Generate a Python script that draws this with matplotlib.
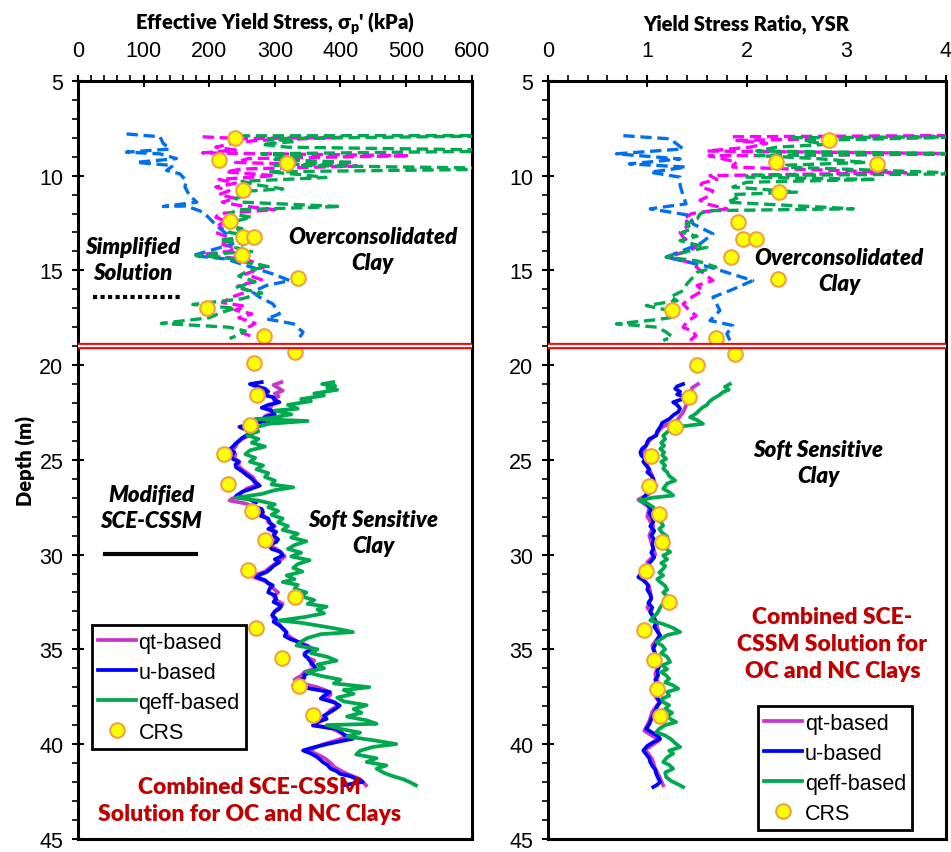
import numpy as np
import matplotlib
matplotlib.use("Agg")
import matplotlib.pyplot as plt
from matplotlib.lines import Line2D

plt.rcParams['font.family'] = ['Liberation Sans Narrow', 'Liberation Sans', 'DejaVu Sans']
plt.rcParams['mathtext.fontset'] = 'custom'
plt.rcParams['mathtext.rm'] = 'Lato:bold'

# ---------------- data: effective yield stress (kPa) ----------------
crs_d_left = [8.0, 9.2, 9.35, 10.75, 12.4, 13.25, 13.25, 14.2, 15.4, 17.0, 18.45, 19.3, 19.9,
              21.6, 23.15, 24.7, 26.3, 27.7, 29.25, 30.8, 32.25, 33.85, 35.45, 36.95, 38.45]
crs_sp = [240, 215, 318, 251, 231, 252, 268, 250, 336, 196, 284, 331, 269,
          273, 262, 223, 228, 265, 285, 259, 330, 271, 311, 337, 358]

# simplified solution (overconsolidated, dashed)
qt_top_d = [7.95, 8.05, 7.98, 8.15, 8.3, 8.5, 8.65, 8.8, 8.95, 9.1, 9.3, 9.5, 9.65, 9.8, 10.0,
            10.2, 10.4, 10.6, 10.8, 11.0, 11.2, 11.4, 11.6, 11.8, 12.0, 12.2, 12.4, 12.6, 12.8,
            13.0, 13.2, 13.4, 13.6, 13.8, 14.0, 14.2, 14.4, 14.6, 14.8, 15.0, 15.2, 15.5, 15.8,
            16.1, 16.4, 16.7, 16.9, 17.1, 17.3, 17.5, 17.8, 18.0, 18.3, 18.55]
qt_top_sp = [190, 250, 400, 270, 235, 210, 240, 190, 505, 260, 240, 425, 250, 225, 300,
             215, 240, 210, 230, 215, 240, 220, 250, 300, 215, 210, 225, 215, 220,
             210, 225, 235, 215, 240, 230, 180, 255, 270, 285, 270, 255, 280, 245,
             260, 235, 220, 255, 240, 265, 245, 270, 260, 250, 270]

u_top_d = [7.8, 7.95, 8.3, 8.6, 8.76, 8.85, 9.1, 9.3, 9.47, 9.73, 9.9, 10.26, 10.6, 11.05,
           11.4, 11.63, 11.6, 11.93, 12.28, 12.64, 13.07, 13.6, 14.22, 14.4, 14.75, 15.19,
           15.54, 15.8, 16.14, 16.42, 16.77, 17.3, 17.56, 17.82, 18.26, 18.53]
u_top_sp = [74, 125, 130, 140, 74, 125, 150, 89, 145, 135, 155, 165, 163, 170,
            181, 130, 165, 191, 201, 211, 226, 236, 175, 226, 257, 297,
            323, 287, 266, 277, 297, 307, 287, 328, 343, 338]

qeff_top_d = [7.9, 7.88, 8.05, 8.2, 8.35, 8.5, 8.68, 8.85, 9.0, 9.15, 9.3, 9.45, 9.64, 9.8,
              9.95, 10.1, 10.3, 10.5, 10.7, 10.85, 11.0, 11.2, 11.4, 11.63, 11.8, 12.0, 12.2,
              12.4, 12.6, 12.8, 13.0, 13.2, 13.4, 13.6, 13.8, 14.0, 14.2, 14.4, 14.6, 14.8,
              15.0, 15.3, 15.6, 15.9, 16.2, 16.5, 16.8, 17.0, 17.2, 17.5, 17.8, 18.0, 18.2,
              18.4, 18.6]
qeff_top_sp = [245, 700, 290, 330, 280, 320, 700, 280, 340, 300, 420, 300, 700, 290,
               340, 378, 250, 275, 312, 245, 260, 240, 250, 400, 245, 230, 265,
               240, 225, 250, 230, 270, 215, 255, 240, 265, 180, 240, 260, 290,
               260, 245, 270, 240, 280, 250, 175, 240, 220, 200, 127, 230, 255,
               245, 231]

# modified SCE-CSSM (soft sensitive clay, solid)
qt_bot_d = [20.9, 21.05, 21.2, 21.35, 21.5, 21.65, 21.8, 21.95, 22.1, 22.3, 22.5, 22.7, 22.9,
            23.05, 23.2, 23.35, 23.5, 23.7, 23.9, 24.1, 24.3, 24.5, 24.7, 24.9, 25.1, 25.3,
            25.5, 25.7, 25.9, 26.1, 26.3, 26.5, 26.7, 26.9, 27.05, 27.15, 27.3, 27.5, 27.7,
            27.9, 28.1, 28.3, 28.5, 28.7, 28.9, 29.1, 29.3, 29.5, 29.7, 29.9, 30.1, 30.3,
            30.5, 30.7, 30.9, 31.05, 31.2, 31.4, 31.6, 31.8, 32.0, 32.2, 32.4, 32.6, 32.8,
            33.0, 33.2, 33.4, 33.6, 33.8, 34.0, 34.2, 34.4, 34.6, 34.8, 35.0, 35.2, 35.4,
            35.6, 35.8, 36.0, 36.2, 36.4, 36.6, 36.8, 37.0, 37.2, 37.4, 37.6, 37.8, 38.0,
            38.2, 38.4, 38.6, 38.8, 39.0, 39.2, 39.4, 39.6, 39.8, 40.0, 40.2, 40.4, 40.6,
            40.8, 41.0, 41.2, 41.4, 41.6, 41.85, 42.18]
qt_bot_sp = [310, 298, 305, 312, 300, 306, 298, 303, 296, 292, 298, 285, 280,
             265, 255, 258, 265, 262, 250, 243, 240, 236, 240, 238, 246, 244,
             250, 258, 266, 270, 275, 258, 250, 245, 235, 231, 255, 268, 278,
             282, 288, 290, 300, 295, 300, 296, 300, 292, 302, 310, 315, 308,
             300, 292, 285, 272, 268, 285, 292, 298, 305, 298, 302, 312, 306,
             300, 296, 298, 305, 310, 315, 318, 325, 335, 350, 355, 345, 348,
             360, 355, 362, 345, 340, 330, 340, 365, 380, 385, 378, 392, 395,
             385, 380, 372, 365, 362, 388, 400, 410, 395, 375, 360, 355, 368,
             378, 385, 390, 400, 412, 430, 439]

u_bot_d = [20.9, 21.0, 21.1, 21.25, 21.4, 21.55, 21.7, 21.85, 21.96, 22.1, 22.25, 22.4, 22.6,
           22.75, 22.9, 23.1, 23.26, 23.4, 23.55, 23.7, 23.85, 24.0, 24.15, 24.3, 24.45,
           24.6, 24.8, 24.95, 25.1, 25.25, 25.4, 25.6, 25.8, 26.0, 26.2, 26.36, 26.55, 26.7,
           26.9, 27.05, 27.23, 27.4, 27.6, 27.76, 27.95, 28.1, 28.3, 28.5, 28.65, 28.8, 29.0,
           29.2, 29.34, 29.5, 29.7, 29.85, 30.05, 30.25, 30.4, 30.6, 30.8, 30.93, 31.05,
           31.19, 31.35, 31.5, 31.63, 31.8, 32.0, 32.15, 32.33, 32.5, 32.7, 32.86, 33.0,
           33.2, 33.4, 33.55, 33.74, 33.9, 34.1, 34.3, 34.45, 34.6, 34.8, 34.97, 35.15,
           35.3, 35.45, 35.6, 35.8, 36.03, 36.2, 36.35, 36.5, 36.7, 36.9, 37.05, 37.26,
           37.45, 37.6, 37.8, 37.97, 38.15, 38.3, 38.5, 38.67, 38.85, 39.02, 39.2, 39.35,
           39.5, 39.72, 39.85, 40.0, 40.17, 40.34, 40.5, 40.7, 40.95, 41.1, 41.3, 41.45,
           41.57, 41.7, 41.83, 42.0, 42.18]
u_bot_sp = [280, 262, 270, 285, 290, 280, 298, 300, 307, 290, 280, 295, 300,
            285, 292, 265, 246, 255, 262, 257, 250, 245, 240, 236, 231,
            238, 233, 236, 245, 240, 241, 250, 257, 265, 270, 277, 262, 250,
            241, 258, 272, 265, 280, 282, 278, 290, 292, 298, 290, 302, 298,
            305, 302, 290, 295, 308, 312, 300, 307, 298, 292, 287, 278,
            272, 285, 290, 297, 292, 290, 300, 302, 298, 310, 307, 300,
            296, 302, 298, 307, 312, 318, 315, 323, 335, 345, 358, 348,
            345, 350, 353, 358, 363, 355, 345, 345, 335, 328, 350, 384,
            375, 370, 390, 399, 392, 385, 375, 379, 365, 358, 394, 400,
            405, 419, 400, 380, 360, 343, 355, 365, 373, 380, 385, 395,
            399, 415, 424, 434, 404]

qeff_bot_d = [20.9, 21.0, 21.1, 21.2, 21.3, 21.5, 21.6, 21.8, 21.9, 22.1, 22.3, 22.4, 22.6,
              22.8, 22.85, 22.95, 23.1, 23.3, 23.5, 23.7, 23.9, 24.1, 24.3, 24.5, 24.7, 24.9,
              25.1, 25.3, 25.5, 25.7, 25.9, 26.1, 26.3, 26.45, 26.6, 26.8, 27.0, 27.15, 27.35,
              27.5, 27.7, 27.9, 28.1, 28.3, 28.5, 28.7, 28.9, 29.1, 29.3, 29.5, 29.7, 29.9,
              30.1, 30.3, 30.5, 30.7, 30.9, 31.1, 31.3, 31.45, 31.6, 31.8, 32.0, 32.2, 32.4,
              32.6, 32.75, 32.9, 33.1, 33.3, 33.48, 33.6, 33.8, 33.95, 34.09, 34.2, 34.4,
              34.6, 34.8, 35.0, 35.2, 35.4, 35.6, 35.8, 36.0, 36.2, 36.4, 36.6, 36.8, 37.0,
              37.15, 37.35, 37.55, 37.75, 37.95, 38.15, 38.35, 38.55, 38.75, 38.93, 39.0,
              39.2, 39.4, 39.6, 39.8, 40.0, 40.15, 40.35, 40.55, 40.75, 40.95, 41.13, 41.3,
              41.5, 41.7, 41.85, 42.0, 42.18]
qeff_bot_sp = [389, 372, 392, 380, 395, 360, 375, 340, 355, 320, 335, 300, 325,
               292, 270, 350, 290, 270, 275, 258, 275, 265, 285, 262, 255, 270,
               262, 282, 272, 290, 285, 300, 295, 328, 300, 280, 241, 275, 300,
               290, 305, 295, 312, 305, 320, 312, 335, 325, 348, 330, 320, 340,
               325, 353, 335, 328, 342, 318, 330, 312, 335, 330, 348, 340, 360,
               350, 379, 365, 375, 345, 307, 340, 375, 400, 419, 370, 350,
               340, 333, 365, 355, 380, 394, 365, 375, 348, 370, 400, 390, 444,
               405, 420, 395, 405, 440, 420, 432, 410, 440, 455, 379,
               400, 430, 410, 450, 485, 450, 430, 424, 455, 440, 470, 455,
               465, 480, 495, 505, 515]

# ---------------- data: yield stress ratio ----------------
crs_d_right = [8.1, 9.26, 9.38, 10.87, 12.46, 13.37, 13.37, 14.27, 15.48, 17.07, 18.56, 19.41,
               19.97, 21.66, 23.27, 24.8, 26.36, 27.85, 29.35, 30.87, 32.48, 34.0, 35.55,
               37.1, 38.5]
crs_ysr = [2.83, 2.29, 3.31, 2.32, 1.91, 1.96, 2.09, 1.84, 2.31, 1.25, 1.69, 1.88,
           1.50, 1.42, 1.28, 1.04, 1.015, 1.115, 1.15, 0.99, 1.22, 0.965, 1.065,
           1.10, 1.13]

ysr_qt_top_d = [7.95, 7.88, 8.15, 8.3, 8.5, 8.7, 8.85, 8.95, 9.1, 9.3, 9.45, 9.55, 9.85,
                10.0, 10.2, 10.4, 10.6, 10.8, 11.05, 11.3, 11.5, 11.75, 12.0, 12.28, 12.5,
                12.72, 13.0, 13.25, 13.5, 13.78, 14.0, 14.3, 14.6, 15.0, 15.3, 15.54, 15.8,
                16.07, 16.4, 16.77, 17.1, 17.39, 17.7, 18.0, 18.2, 18.44, 18.7]
ysr_qt_top = [1.86, 4.3, 1.9, 2.2, 2.03, 1.6, 4.3, 1.62, 1.75, 1.9, 1.86, 1.86, 3.6,
              1.63, 1.7, 1.55, 1.53, 1.66, 1.63, 1.53, 1.6, 1.80, 1.45, 1.36, 1.42,
              1.39, 1.33, 1.36, 1.42, 1.49, 1.4, 1.19, 1.45, 1.53, 1.6, 1.66, 1.5,
              1.56, 1.45, 1.36, 1.42, 1.49, 1.40, 1.36, 1.45, 1.49, 1.43]

ysr_u_top_d = [7.89, 8.06, 8.59, 8.85, 9.12, 9.38, 9.55, 9.82, 10.08, 10.52, 11.05, 11.49,
               11.75, 12.1, 12.55, 13.07, 13.6, 14.3, 14.83, 15.54, 16.07, 16.41, 17.12,
               17.65, 17.91, 18.35, 18.7]
ysr_u_top = [0.76, 1.23, 1.36, 0.69, 1.33, 0.82, 1.39, 1.03, 1.33, 1.33, 1.36, 1.39,
             1.03, 1.43, 1.46, 1.66, 1.53, 1.19, 1.63, 2.06, 1.83, 1.66, 1.73,
             1.63, 1.86, 1.80, 1.83]

ysr_qeff_top_d = [8.0, 7.95, 8.15, 8.35, 8.5, 8.7, 8.85, 8.94, 9.1, 9.3, 9.45, 9.55, 9.9,
                  10.0, 10.08, 10.2, 10.35, 10.6, 10.87, 11.0, 11.2, 11.4, 11.75, 11.85,
                  12.02, 12.3, 12.55, 12.8, 13.0, 13.2, 13.43, 13.6, 13.78, 14.0, 14.3,
                  14.5, 14.83, 15.1, 15.36, 15.7, 16.07, 16.41, 16.6, 16.86, 17.1, 17.47,
                  17.6, 17.82, 18.0, 18.26, 18.5, 18.7]
ysr_qeff_top = [2.45, 4.3, 2.57, 2.8, 2.3, 2.1, 4.3, 2.1, 2.7, 3.2, 2.4, 2.4, 4.3,
                2.0, 2.0, 3.3, 2.0, 1.86, 2.5, 1.85, 1.9, 1.80, 3.07, 1.6,
                1.53, 1.5, 1.39, 1.45, 1.35, 1.5, 1.33, 1.45, 1.6, 1.4, 1.19,
                1.5, 1.69, 1.5, 1.46, 1.4, 1.36, 1.23, 1.3, 0.99, 1.2, 1.26,
                1.1, 0.69, 1.1, 1.19, 1.25, 1.16]

ysr_qt_bot_d = [21.0, 21.2, 21.6, 21.9, 22.13, 22.5, 22.9, 23.27, 23.7, 24.0, 24.3, 24.77,
                25.3, 25.83, 26.36, 26.8, 27.1, 27.5, 28.0, 28.5, 29.0, 29.5, 30.0, 30.4,
                30.8, 31.25, 31.7, 32.3, 32.8, 33.3, 33.8, 34.3, 34.8, 35.3, 35.8, 36.3,
                36.8, 37.3, 37.8, 38.3, 38.8, 39.3, 39.8, 40.3, 40.8, 41.3, 41.7, 42.18]
ysr_qt_bot = [1.51, 1.45, 1.44, 1.40, 1.39, 1.36, 1.30, 1.15, 1.08, 1.02, 0.98, 0.96,
              1.0, 1.05, 1.08, 1.02, 0.91, 1.02, 1.0, 1.06, 1.02, 1.05, 1.08, 1.0,
              1.04, 0.95, 1.02, 1.04, 1.0, 1.07, 1.1, 1.12, 1.05, 1.08, 1.12, 1.08,
              1.11, 1.06, 1.12, 1.05, 1.02, 0.97, 1.12, 0.98, 1.05, 1.08, 1.12, 1.16]

ysr_u_bot_d = [21.0, 21.12, 21.25, 21.4, 21.55, 21.65, 21.78, 21.96, 22.1, 22.3, 22.48, 22.65,
               22.85, 23.05, 23.27, 23.5, 23.72, 23.9, 24.05, 24.24, 24.4, 24.6, 24.77, 24.95,
               25.1, 25.3, 25.5, 25.65, 25.83, 26.0, 26.2, 26.36, 26.55, 26.75, 26.95, 27.15,
               27.35, 27.59, 27.8, 28.05, 28.3, 28.5, 28.75, 29.0, 29.2, 29.45, 29.7, 29.9,
               30.15, 30.4, 30.6, 30.8, 31.0, 31.19, 31.35, 31.5, 31.63, 31.85, 32.1, 32.33,
               32.55, 32.8, 33.04, 33.3, 33.57, 33.8, 34.05, 34.27, 34.5, 34.75, 34.97, 35.2,
               35.45, 35.67, 35.9, 36.15, 36.38, 36.6, 36.85, 37.08, 37.3, 37.55, 37.79, 38.0,
               38.25, 38.49, 38.7, 38.95, 39.2, 39.4, 39.55, 39.72, 39.9, 40.1, 40.34, 40.55,
               40.75, 40.95, 41.15, 41.35, 41.57, 41.8, 42.0, 42.15, 42.27]
ysr_u_bot = [1.36, 1.3, 1.28, 1.33, 1.3, 1.38, 1.36, 1.26, 1.3, 1.33, 1.31, 1.26,
             1.22, 1.15, 1.13, 1.1, 1.09, 1.02, 1.0, 0.99, 0.95, 0.93, 0.94, 0.98,
             0.96, 0.99, 1.02, 1.0, 1.04, 1.06, 1.07, 1.09, 1.04, 1.0, 0.97, 0.96,
             1.0, 1.04, 1.02, 1.05, 1.06, 1.03, 1.07, 1.04, 1.07, 1.05, 1.06, 1.04,
             1.07, 1.03, 1.0, 0.98, 0.94, 0.91, 0.96, 0.99, 1.01, 1.0, 1.03, 1.04,
             1.01, 1.05, 1.03, 1.06, 1.09, 1.07, 1.1, 1.13, 1.1, 1.08, 1.06, 1.08,
             1.1, 1.09, 1.12, 1.1, 1.11, 1.08, 1.1, 1.09, 1.12, 1.1, 1.13, 1.1,
             1.08, 1.06, 1.04, 1.02, 0.99, 1.05, 1.1, 1.13, 1.06, 1.0, 0.96, 0.99,
             1.02, 1.03, 1.05, 1.08, 1.09, 1.11, 1.13, 1.1, 1.06]

ysr_qeff_bot_d = [21.0, 21.15, 21.3, 21.43, 21.6, 21.78, 21.95, 22.1, 22.22, 22.4, 22.6, 22.75,
                  22.9, 23.1, 23.27, 23.45, 23.72, 23.9, 24.1, 24.25, 24.42, 24.6, 24.75, 24.95,
                  25.1, 25.3, 25.47, 25.65, 25.85, 26.09, 26.25, 26.4, 26.53, 26.7, 26.88,
                  27.0, 27.15, 27.3, 27.5, 27.76, 27.95, 28.15, 28.3, 28.47, 28.65, 28.85,
                  29.05, 29.25, 29.45, 29.65, 29.87, 30.05, 30.25, 30.45, 30.6, 30.75, 30.95,
                  31.1, 31.3, 31.45, 31.65, 31.85, 32.0, 32.15, 32.33, 32.5, 32.7, 32.9, 33.1,
                  33.3, 33.48, 33.65, 33.85, 34.0, 34.09, 34.25, 34.45, 34.62, 34.8, 35.0,
                  35.2, 35.4, 35.67, 35.85, 36.05, 36.2, 36.38, 36.55, 36.75, 36.9, 37.08,
                  37.25, 37.45, 37.6, 37.79, 37.95, 38.15, 38.35, 38.55, 38.7, 38.84, 39.0,
                  39.2, 39.37, 39.55, 39.75, 39.95, 40.16, 40.35, 40.5, 40.7, 40.95, 41.1,
                  41.3, 41.5, 41.74, 41.95, 42.1, 42.27]
ysr_qeff_bot = [1.83, 1.78, 1.82, 1.76, 1.72, 1.66, 1.62, 1.6, 1.56, 1.52, 1.48, 1.43,
                1.5, 1.56, 1.29, 1.22, 1.16, 1.18, 1.14, 1.17, 1.13, 1.17, 1.15, 1.19,
                1.14, 1.18, 1.16, 1.2, 1.22, 1.28, 1.2, 1.18, 1.16, 1.22, 1.26,
                1.05, 0.92, 1.0, 1.06, 1.09, 1.12, 1.1, 1.14, 1.16, 1.12, 1.15,
                1.2, 1.16, 1.2, 1.18, 1.23, 1.16, 1.2, 1.14, 1.18, 1.16, 1.12,
                1.16, 1.1, 1.13, 1.18, 1.2, 1.16, 1.19, 1.23, 1.18, 1.14, 1.12, 1.1,
                1.06, 1.03, 1.15, 1.25, 1.3, 1.33, 1.2, 1.14, 1.09, 1.15, 1.18,
                1.14, 1.2, 1.23, 1.15, 1.2, 1.14, 1.19, 1.22, 1.18, 1.26, 1.31,
                1.2, 1.22, 1.15, 1.16, 1.22, 1.18, 1.25, 1.2, 1.24, 1.29, 1.18,
                1.12, 1.09, 1.18, 1.24, 1.28, 1.33, 1.22, 1.26, 1.2, 1.16, 1.22,
                1.26, 1.18, 1.19, 1.24, 1.3, 1.36]

# ---------------- styles ----------------
c_qt, c_u, c_qeff = '#C838C8', '#0000FF', '#00A84F'
c_qt_d, c_u_d, c_qeff_d = '#FF00FF', '#0070F0', '#00A850'
dash = (0, (3.4, 1.7))
dark_red = '#C00000'
txt_font = ['Lato', 'DejaVu Sans']

fig = plt.figure(figsize=(9.51, 8.53), dpi=100)
ax1 = fig.add_axes([0.082, 0.0155, 0.414, 0.8885])
ax2 = fig.add_axes([0.576, 0.0155, 0.4185, 0.8885])


def dress(ax, xmax, xmajor, xminor):
    ax.set_xlim(0, xmax)
    ax.set_ylim(45, 5)
    ax.xaxis.tick_top()
    ax.set_xticks(np.arange(0, xmax + 1e-9, xmajor))
    ax.set_xticks(np.arange(0, xmax + 1e-9, xminor), minor=True)
    ax.set_yticks(np.arange(5, 46, 5))
    ax.set_yticks(np.arange(5, 46, 1), minor=True)
    ax.tick_params(which='major', direction='inout', length=9, width=1.5, labelsize=15.5,
                   pad=6)
    ax.tick_params(which='minor', direction='out', length=4, width=1.2)
    ax.tick_params(axis='x', which='major', pad=10)
    for s in ax.spines.values():
        s.set_linewidth(2.2)
    ax.axhline(19.0, color='red', lw=4.5, zorder=6)
    ax.axhline(19.0, color='white', lw=1.6, zorder=7)


def profiles(ax, top, bot, crs):
    for (d, v), col in zip(top, [c_qt_d, c_u_d, c_qeff_d]):
        ax.plot(v, d, color=col, lw=2.4, ls=dash, zorder=3)
    for (d, v), col in zip(bot, [c_qt, c_u, c_qeff]):
        ax.plot(v, d, color=col, lw=2.7, zorder=3)
    ax.plot(crs[1], crs[0], 'o', ms=10.5, mfc='#FFFF00', mec='#F0A040', mew=1.5,
            ls='none', zorder=5)


profiles(ax1,
         [(qt_top_d, qt_top_sp), (u_top_d, u_top_sp), (qeff_top_d, qeff_top_sp)],
         [(qt_bot_d, qt_bot_sp), (u_bot_d, u_bot_sp), (qeff_bot_d, qeff_bot_sp)],
         (crs_d_left, crs_sp))
profiles(ax2,
         [(ysr_qt_top_d, ysr_qt_top), (ysr_u_top_d, ysr_u_top), (ysr_qeff_top_d, ysr_qeff_top)],
         [(ysr_qt_bot_d, ysr_qt_bot), (ysr_u_bot_d, ysr_u_bot), (ysr_qeff_bot_d, ysr_qeff_bot)],
         (crs_d_right, crs_ysr))

dress(ax1, 600, 100, 20)
dress(ax2, 4, 1, 0.2)
ax1.set_ylabel('Depth (m)', fontsize=14.5, fontweight='heavy', family=txt_font, labelpad=2)

# legends
handles = [Line2D([], [], color=c_qt, lw=2.7),
           Line2D([], [], color=c_u, lw=2.7),
           Line2D([], [], color=c_qeff, lw=2.7),
           Line2D([], [], marker='o', ls='none', ms=10.5, mfc='#FFFF00', mec='#F0A040', mew=1.5)]
labels = ['qt-based', 'u-based', 'qeff-based', 'CRS']
for ax, anchor in [(ax1, (0.035, 0.118)), (ax2, (0.528, 0.011))]:
    leg = ax.legend(handles, labels, loc='lower left', bbox_to_anchor=anchor,
                    prop={'family': ['Liberation Sans', 'DejaVu Sans'], 'size': 15.5},
                    handlelength=1.75, handletextpad=0.12, labelspacing=0.42,
                    borderpad=0.3, borderaxespad=0, fancybox=False, framealpha=1)
    leg.get_frame().set_edgecolor('black')
    leg.get_frame().set_linewidth(2)
    leg.set_zorder(10)

# annotations, left panel
ital = dict(fontsize=16, fontweight='heavy', style='italic', family=txt_font,
            ha='center', va='center', linespacing=1.3)
ax1.text(84, 14.45, 'Simplified\nSolution', **ital)
ax1.plot([23, 155], [16.4, 16.4], color='black', lw=3, ls=(0, (1, 0.8)))
ax1.text(449, 13.9, 'Overconsolidated\nClay', **ital)
ax1.text(112, 27.5, 'Modified\nSCE-CSSM', **ital)
ax1.plot([41, 180], [29.95, 29.95], color='black', lw=3)
ax1.text(450, 28.85, 'Soft Sensitive\nClay', **ital)
red = dict(fontsize=16.5, fontweight='heavy', color=dark_red, family=txt_font,
           ha='center', va='center', linespacing=1.35)
ax1.text(262, 42.95, 'Combined SCE-CSSM\nSolution for OC and NC Clays', **red)

# annotations, right panel
ax2.text(2.93, 15.0, 'Overconsolidated\nClay', **ital)
ax2.text(2.72, 25.15, 'Soft Sensitive\nClay', **ital)
ax2.text(2.86, 34.7, 'Combined SCE-\nCSSM Solution for\nOC and NC Clays', **red)

# axis titles
fig.text(0.289, 0.972, "Effective Yield Stress, σ$_\\mathregular{p}$' (kPa)", fontsize=14.5,
         fontweight='heavy', family=txt_font, ha='center', va='center')
fig.text(0.785, 0.972, 'Yield Stress Ratio, YSR', fontsize=14.5, fontweight='heavy',
         family=txt_font, ha='center', va='center')

fig.savefig('out.png', dpi=100)
